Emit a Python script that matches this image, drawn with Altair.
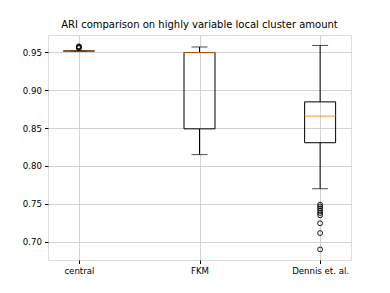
import altair as alt
import pandas as pd

categories = ["central", "FKM", "Dennis et. al."]
whisker_low = [0.9514, 0.815, 0.770]
q1 = [0.9516, 0.849, 0.8307]
median = [0.9517, 0.9495, 0.8658]
q3 = [0.9518, 0.9497, 0.8846]
whisker_high = [0.9521, 0.957, 0.959]

outlier_cat = ["central"] * 4 + ["Dennis et. al."] * 9
outlier_val = [0.9555, 0.9563, 0.957, 0.9578,
               0.749, 0.7465, 0.744, 0.741, 0.738, 0.735, 0.7245, 0.7115, 0.690]

stats = pd.DataFrame({"cat": categories, "lo": whisker_low, "q1": q1,
                      "med": median, "q3": q3, "hi": whisker_high})
outl = pd.DataFrame({"cat": outlier_cat, "val": outlier_val})

FONT = "DejaVu Sans"
xs = alt.X("cat:N", sort=categories, title=None,
           scale=alt.Scale(type="point", padding=0.256),
           axis=alt.Axis(labelAngle=0, labelFontSize=8.6, labelColor="black",
                         tickColor="black", tickSize=3.5, labelPadding=3,
                         domain=False, grid=True, gridColor="#c8c8c8", gridWidth=0.8,
                         labelFont=FONT))
yscale = alt.Scale(domain=[0.676, 0.9728], nice=False, zero=False)
yaxis = alt.Axis(values=[0.70, 0.75, 0.80, 0.85, 0.90, 0.95], format=".2f",
                 labelFontSize=8.6, labelColor="black", tickColor="black",
                 tickSize=3.5, labelPadding=3, domain=False, grid=True,
                 gridColor="#c8c8c8", gridWidth=0.8, labelFont=FONT)

base = alt.Chart(stats)
whisk_lo = base.mark_rule(color="black", strokeWidth=1).encode(
    x=xs, y=alt.Y("lo:Q", scale=yscale, axis=yaxis, title=None), y2="q1:Q")
whisk_hi = base.mark_rule(color="black", strokeWidth=1).encode(
    x=xs, y=alt.Y("q3:Q", scale=yscale), y2="hi:Q")
cap_lo = base.mark_tick(color="black", size=16, thickness=1).encode(
    x=xs, y=alt.Y("lo:Q", scale=yscale))
cap_hi = base.mark_tick(color="black", size=16, thickness=1).encode(
    x=xs, y=alt.Y("hi:Q", scale=yscale))
box = base.mark_bar(size=31, fill="white", fillOpacity=0, stroke="black",
                    strokeWidth=1).encode(
    x=xs, y=alt.Y("q1:Q", scale=yscale), y2="q3:Q")
med = base.mark_tick(color="#ff7f0e", size=31, thickness=1.2).encode(
    x=xs, y=alt.Y("med:Q", scale=yscale))
pts = alt.Chart(outl).mark_point(shape="circle", filled=False, color="black",
                                 size=24, strokeWidth=0.9, opacity=1).encode(
    x=xs, y=alt.Y("val:Q", scale=yscale))

chart = alt.layer(whisk_lo, whisk_hi, box, cap_lo, cap_hi, med, pts).properties(
    width=303, height=225,
    title=alt.TitleParams("ARI comparison on highly variable local cluster amount",
                          fontSize=10, font=FONT, fontWeight="normal",
                          color="black", offset=5),
    autosize=alt.AutoSizeParams(type="none"),
    padding={"left": 40, "top": 27, "right": 20, "bottom": 17},
).configure_view(stroke="#333", strokeWidth=0.9).configure(background="white")

chart.save("out.html", embed_options={"renderer": "svg", "actions": False})
